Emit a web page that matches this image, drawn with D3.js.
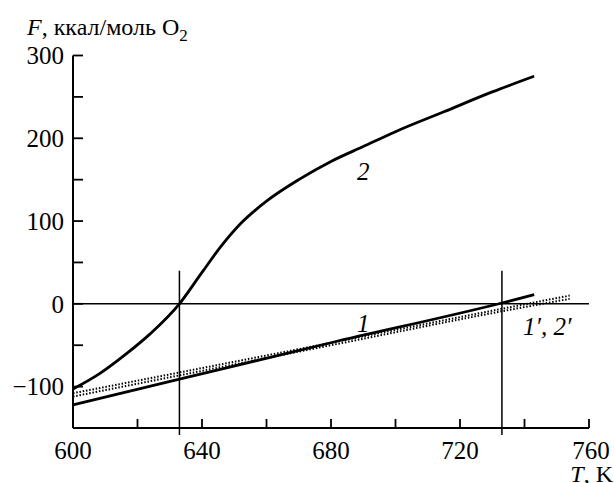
<!DOCTYPE html>
<html>
<head>
<meta charset="utf-8">
<script src="https://cdn.jsdelivr.net/npm/d3@7"></script>
</head>
<body style="margin:0; background:#fff">
<svg id="chart" width="614" height="483" font-family="serif"></svg>
<script>
// data (T in K, F in kcal/mol O2)
var curve2 = [[600,-103],[608,-85],[616,-62],[624,-36],[633,0],[640,38],[646,70],[652,97],
              [660,124],[670,150],[680,172],[690,190],[700,208],[715,232],[730,256],[743,275]];
var curve1 = [[600,-122],[633,-91],[680,-47],[733,1],[743,11]];
var curve1p = [[600,-108],[680,-47],[733,-6],[754,10]];
var curve2p = [[600,-112],[680,-50],[733,-9],[754,6]];
var xLabels = [600, 640, 680, 720, 760];
var yLabels = [300, 200, 100, 0, -100];
var xTickVals = d3.range(600, 761, 20);
var yTickVals = d3.range(-150, 301, 50);
var crossT = [633, 733];

var svg = d3.select("#chart");
var x = d3.scaleLinear().domain([600, 760]).range([73, 589]);
var y = d3.scaleLinear().domain([-150, 300]).range([428, 55.5]);

var line = d3.line().x(d => x(d[0])).y(d => y(d[1])).curve(d3.curveMonotoneX);

// axes frame
svg.append("line").attr("x1", x(600)).attr("x2", x(600)).attr("y1", y(300)).attr("y2", y(-150))
   .attr("stroke", "#000").attr("stroke-width", 2);
svg.append("line").attr("x1", x(600)).attr("x2", x(760)).attr("y1", y(-150)).attr("y2", y(-150))
   .attr("stroke", "#000").attr("stroke-width", 2);

// ticks pointing inward
svg.selectAll(".xt").data(xTickVals.slice(1)).enter().append("line")
   .attr("x1", d => x(d)).attr("x2", d => x(d)).attr("y1", y(-150)).attr("y2", y(-150) - 9)
   .attr("stroke", "#000").attr("stroke-width", 1.8);
svg.selectAll(".yt").data(yTickVals.slice(1)).enter().append("line")
   .attr("x1", x(600)).attr("x2", x(600) + 10).attr("y1", d => y(d)).attr("y2", d => y(d))
   .attr("stroke", "#000").attr("stroke-width", 1.8);

// tick labels
svg.selectAll(".xl").data(xLabels).enter().append("text")
   .attr("font-family", "serif").attr("font-size", 25)
   .attr("x", d => x(d) + (d == 760 ? 2 : 0)).attr("y", 459)
   .attr("text-anchor", "middle")
   .text(d => d);
svg.selectAll(".yl").data(yLabels).enter().append("text")
   .attr("font-family", "serif").attr("font-size", 25)
   .attr("x", 64).attr("y", d => y(d)).attr("dy", "0.35em")
   .attr("text-anchor", "end")
   .text(d => d < 0 ? "\u2212" + Math.abs(d) : d);

// zero line and crossing lines
svg.append("line").attr("x1", x(600)).attr("x2", x(760)).attr("y1", y(0)).attr("y2", y(0))
   .attr("stroke", "#000").attr("stroke-width", 1.5);
svg.selectAll(".vl").data(crossT).enter().append("line")
   .attr("x1", d => x(d)).attr("x2", d => x(d)).attr("y1", y(40)).attr("y2", y(-150) + 7)
   .attr("stroke", "#000").attr("stroke-width", 1.5);

// curves
svg.append("path").datum(curve2).attr("d", line)
   .attr("fill", "none").attr("stroke", "#000").attr("stroke-width", 2.8);
svg.append("path").datum(curve1).attr("d", line)
   .attr("fill", "none").attr("stroke", "#000").attr("stroke-width", 2.8);
[curve1p, curve2p].forEach(function(c) {
  svg.append("path").datum(c).attr("d", line)
     .attr("fill", "none").attr("stroke", "#000").attr("stroke-width", 2)
     .attr("stroke-dasharray", "1.5,1.8");
});

// curve labels
function lbl(px, py, s, anchor) {
  svg.append("text").attr("font-family", "serif").attr("font-size", 25)
     .attr("font-style", "italic")
     .attr("x", px).attr("y", py).attr("text-anchor", anchor).text(s);
}
lbl(x(690), y(150), "2", "middle");
lbl(x(690), 332, "1", "middle");
lbl(523, 335, "1\u2032, 2\u2032", "start");

// axis titles
var yt = svg.append("text").attr("font-family", "serif").attr("font-size", 24)
   .attr("x", 27).attr("y", 35);
yt.append("tspan").attr("font-style", "italic").text("F");
yt.append("tspan").text(", ккал/моль O");
yt.append("tspan").attr("dy", 6).attr("font-size", 17).text("2");

var xt = svg.append("text").attr("font-family", "serif").attr("font-size", 24)
   .attr("x", 613).attr("y", 482).attr("text-anchor", "end");
xt.append("tspan").attr("font-style", "italic").text("T");
xt.append("tspan").text(", K");
</script>
</body>
</html>
